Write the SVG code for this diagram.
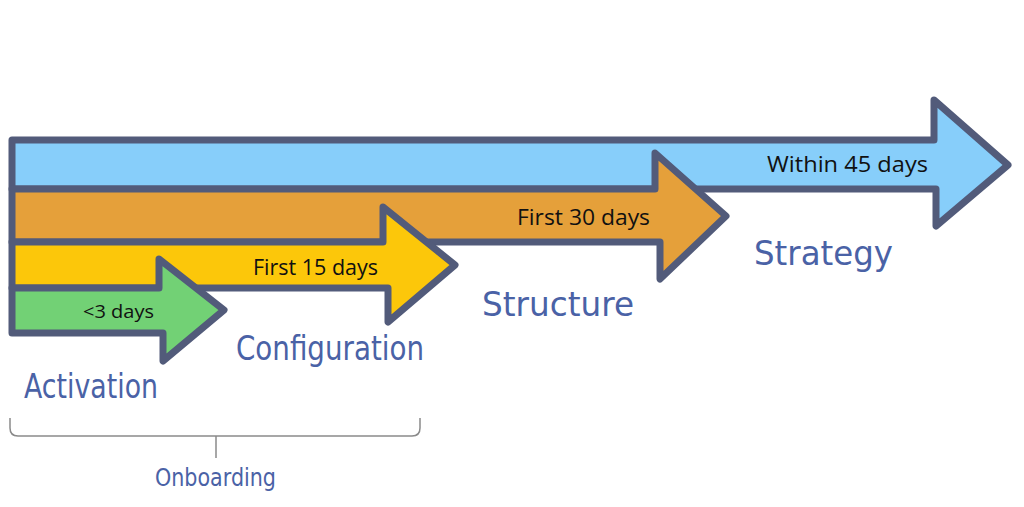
<svg xmlns="http://www.w3.org/2000/svg" width="1024" height="507" viewBox="0 0 1024 507">
<style>
.arrow{stroke:#525b7a;stroke-width:7;stroke-linejoin:round;}
.lbl{font-family:"Open Sans",Lato,sans-serif;font-size:21px;fill:#111;}
.hand{font-family:"DejaVu Sans",sans-serif;font-weight:normal;fill:#4a62a6;}
.brace{fill:none;stroke:#8a8a8a;stroke-width:1.5;}
</style>
<rect width="1024" height="507" fill="#fff"/>
<g id="arrow-strategy">
<path class="arrow" fill="#87cefa" d="M12,140 L934,140 L934,100 L1008,165 L936,226 L936,189 L12,189 Z"/>
<text class="lbl" x="767" y="172" textLength="161" lengthAdjust="spacingAndGlyphs">Within 45 days</text>
</g>
<g id="arrow-structure">
<path class="arrow" fill="#e5a03a" d="M12,189 L655,189 L655,153 L726,216 L660,279 L660,242 L12,242 Z"/>
<text class="lbl" x="517" y="225" textLength="133" lengthAdjust="spacingAndGlyphs">First 30 days</text>
</g>
<g id="arrow-configuration">
<path class="arrow" fill="#fcc70a" d="M12,242 L383,242 L383,207 L455,265 L388,322 L388,288 L12,288 Z"/>
<text class="lbl" x="253" y="275" textLength="125" lengthAdjust="spacingAndGlyphs">First 15 days</text>
</g>
<g id="arrow-activation">
<path class="arrow" fill="#72d175" d="M12,288 L159,288 L159,259 L224,310 L163,361 L163,333 L12,333 Z"/>
<text class="lbl" x="83" y="318" style="font-size:18px" textLength="71" lengthAdjust="spacingAndGlyphs">&lt;3 days</text>
</g>
<g id="label-strategy"><text class="hand" x="754" y="265" font-size="34" textLength="139" lengthAdjust="spacingAndGlyphs">Strategy</text></g>
<g id="label-structure"><text class="hand" x="482" y="316" font-size="34" textLength="152" lengthAdjust="spacingAndGlyphs">Structure</text></g>
<g id="label-configuration"><text class="hand" x="236" y="360" font-size="34" textLength="188" lengthAdjust="spacingAndGlyphs">Configuration</text></g>
<g id="label-activation"><text class="hand" x="24" y="398" font-size="34" textLength="134" lengthAdjust="spacingAndGlyphs">Activation</text></g>
<g id="connectors">
<path class="brace" d="M10,418 L10,428 Q10,436 18,436 L412,436 Q420,436 420,428 L420,418 M216,436 L216,458"/>
</g>
<g id="label-onboarding"><text class="hand" x="155" y="486" font-size="24" textLength="121" lengthAdjust="spacingAndGlyphs">Onboarding</text></g>
</svg>
